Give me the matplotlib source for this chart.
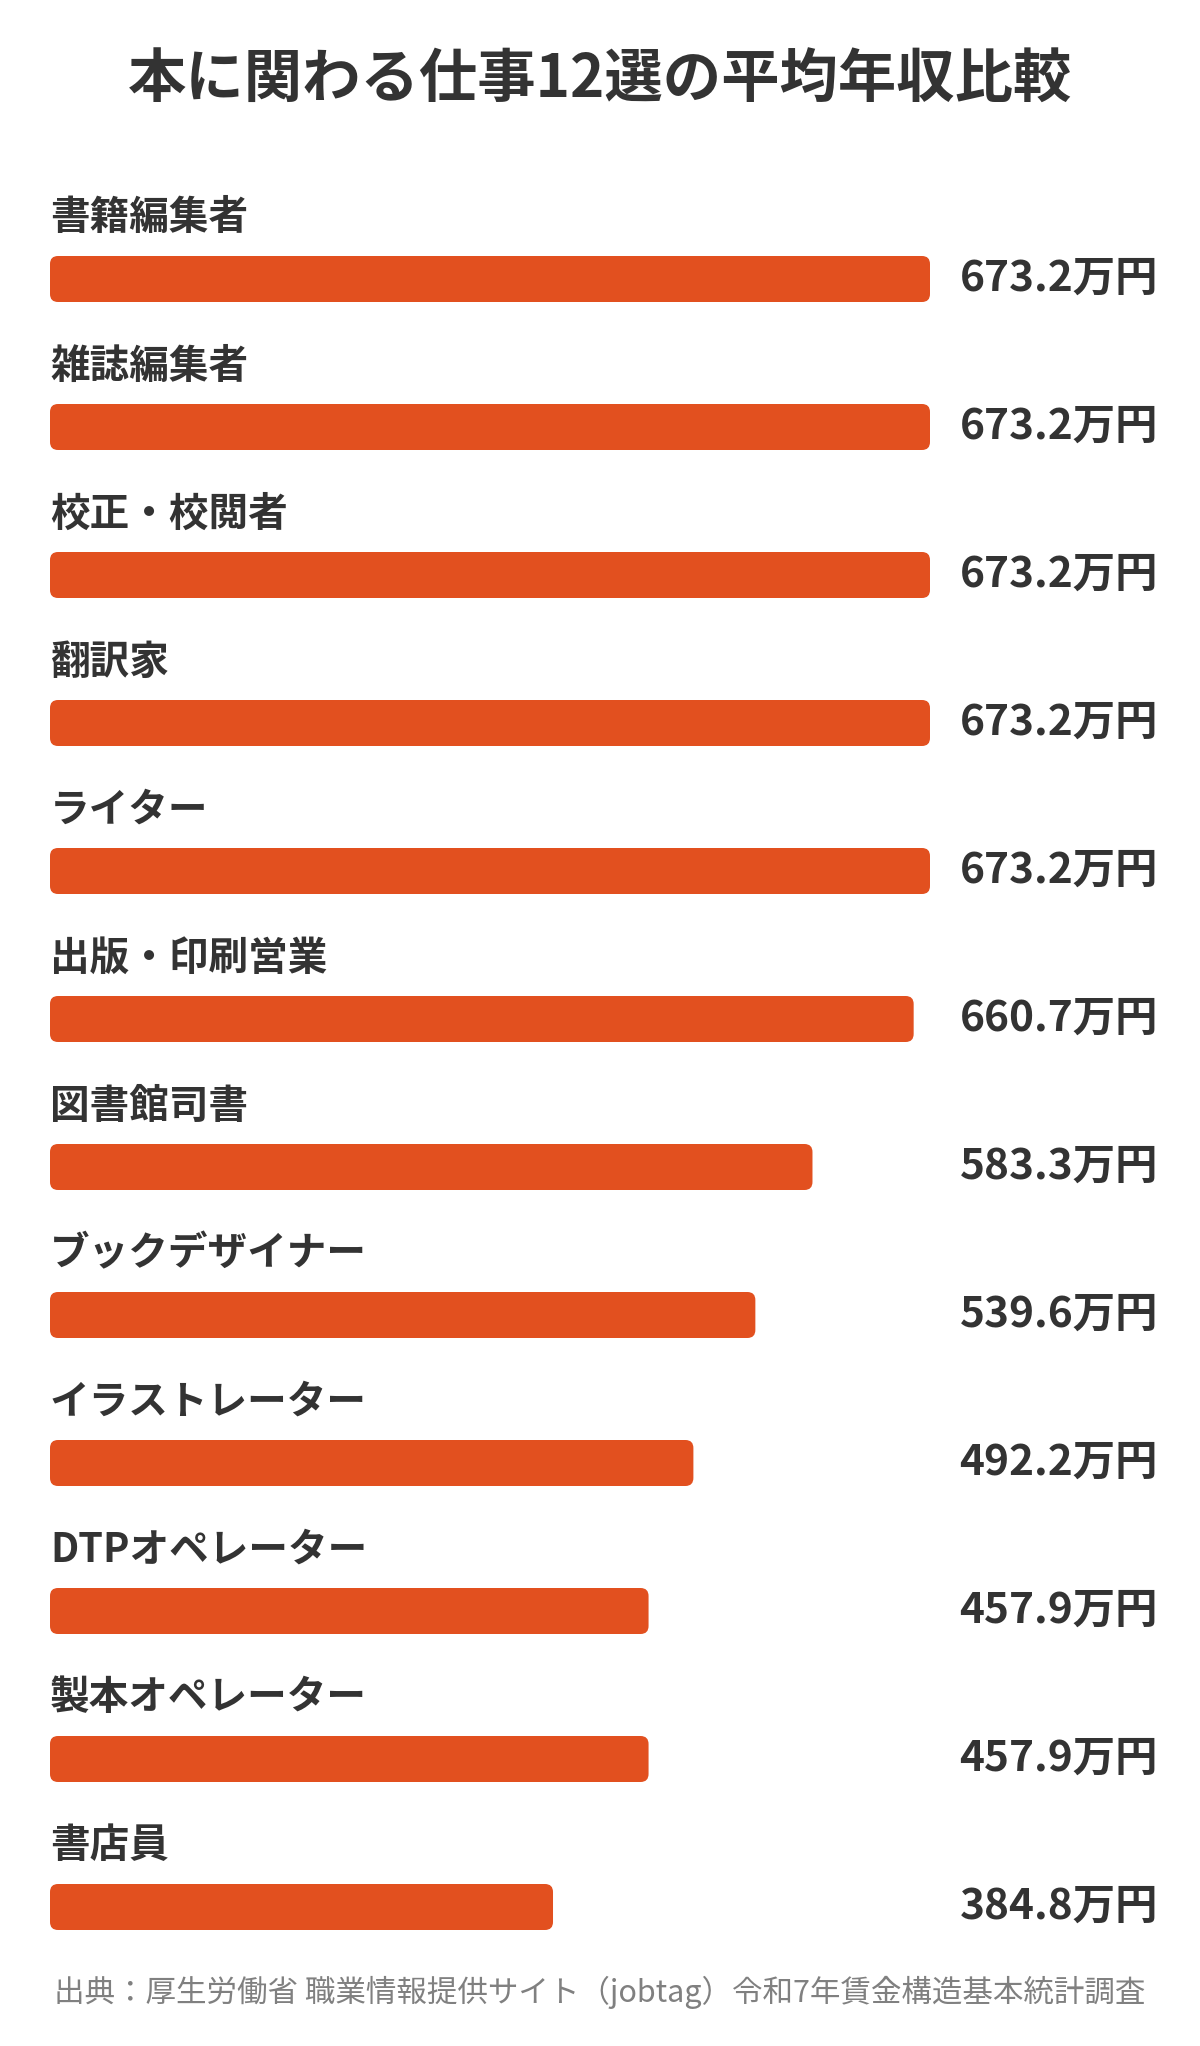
import matplotlib
matplotlib.use("Agg")
import matplotlib.pyplot as plt
from matplotlib.patches import FancyBboxPatch
import matplotlib.transforms as mtransforms

plt.rcParams['font.family'] = ['Noto Sans CJK JP', 'DejaVu Sans']

title = "本に関わる仕事12選の平均年収比較"
jobs = ["書籍編集者", "雑誌編集者", "校正・校閲者", "翻訳家", "ライター",
        "出版・印刷営業", "図書館司書", "ブックデザイナー", "イラストレーター",
        "DTPオペレーター", "製本オペレーター", "書店員"]
salary = [673.2, 673.2, 673.2, 673.2, 673.2, 660.7, 583.3, 539.6, 492.2,
          457.9, 457.9, 384.8]
source = "出典：厚生労働省 職業情報提供サイト（jobtag）令和7年賃金構造基本統計調査"

bar_color = "#E2501F"
text_color = "#333333"

W, H = 1200, 2046
fig = plt.figure(figsize=(W / 100, H / 100), dpi=100)
ax = fig.add_axes([0, 0, 1, 1])

# pixel layout -> data limits
x0_px, full_px, vmax = 50, 880, max(salary)
xu = vmax / full_px               # value units per pixel
row0_px, row_px = 279, 148        # first bar center, row spacing
ax.set_xlim(-x0_px * xu, (W - x0_px) * xu)
ax.set_ylim((H - row0_px) / row_px, -row0_px / row_px)
ax.axis("off")

ypos = list(range(len(jobs)))
bar_h = 46 / row_px
bars = ax.barh(ypos, salary, height=bar_h, color=bar_color)

# swap the plain bars for rounded ones
r_px = 8
aspect = (1 / row_px) / xu
for b in bars:
    x, y = b.get_x(), b.get_y()
    w, h = b.get_width(), b.get_height()
    b.set_visible(False)
    p = FancyBboxPatch((x, y), w, h,
                       boxstyle=f"round,pad=0,rounding_size={r_px * xu}",
                       mutation_aspect=aspect, fc=bar_color, ec="none")
    ax.add_patch(p)

trans = mtransforms.blended_transform_factory(ax.transAxes, ax.transData)
for i, (name, v) in enumerate(zip(jobs, salary)):
    ax.text(0, i - 61 / row_px, name, fontsize=28.5, fontweight="bold",
            color=text_color, ha="left", va="center")
    ax.text(1158 / W, i, f"{v:.1f}万円", transform=trans, fontsize=30.5,
            fontweight="bold", color=text_color, ha="right", va="center")

fig.text(0.5, 1 - 81 / H, title, fontsize=42, fontweight="bold",
         color=text_color, ha="center", va="center")
fig.text(0.5, 1 - 1992 / H, source, fontsize=22, color="#808080",
         ha="center", va="center")

fig.savefig("out.png", dpi=100, facecolor="white")
